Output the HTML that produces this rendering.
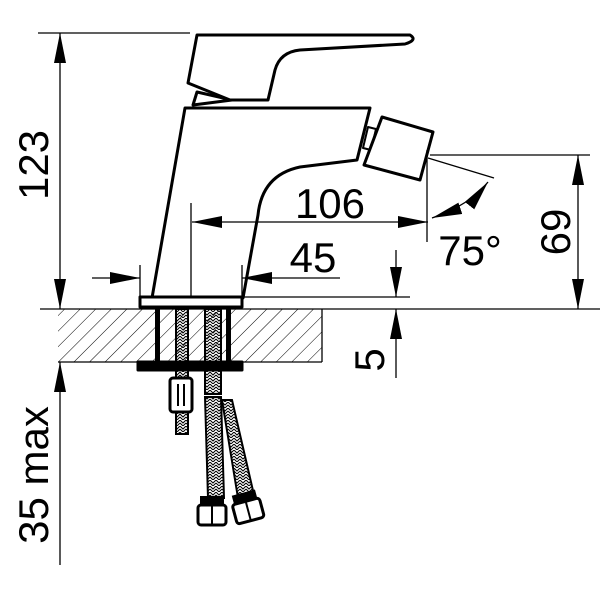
<!DOCTYPE html>
<html><head><style>body{margin:0;background:#fff}svg{display:block}text{font-family:"Liberation Sans",sans-serif;fill:#000}</style></head><body>
<svg width="600" height="600" viewBox="0 0 600 600" xmlns="http://www.w3.org/2000/svg">
<defs>
<pattern id="h" width="11" height="11" patternUnits="userSpaceOnUse" patternTransform="rotate(45)"><line x1="0" y1="0" x2="0" y2="11" stroke="#000" stroke-width="1"/></pattern>
<pattern id="br" width="6" height="6" patternUnits="userSpaceOnUse"><path d="M0 0 L3 3 L6 0 M0 3 L3 6 L6 3" stroke="#000" stroke-width="1" fill="none"/></pattern>
<marker id="a" viewBox="0 0 30 12" refX="30" refY="6" markerWidth="30" markerHeight="12" markerUnits="userSpaceOnUse" orient="auto-start-reverse"><path d="M0 0 L30 6 L0 12Z" fill="#000"/></marker>
</defs>
<g stroke="#000" fill="none" stroke-width="1.3">
<rect x="58" y="309" width="264" height="53" fill="url(#h)" stroke="none"/>
<line x1="58" y1="362" x2="322" y2="362"/>
<line x1="322" y1="309" x2="322" y2="362"/>
<line x1="40" y1="309" x2="600" y2="309"/>
<line x1="38" y1="33" x2="190" y2="33"/>
<line x1="60" y1="33" x2="60" y2="309" marker-start="url(#a)" marker-end="url(#a)"/>
<line x1="60" y1="565" x2="60" y2="362" marker-end="url(#a)"/>
<line x1="396" y1="250" x2="396" y2="297" marker-end="url(#a)"/>
<line x1="396" y1="378" x2="396" y2="309" marker-end="url(#a)"/>
<line x1="430" y1="155" x2="590" y2="155"/>
<line x1="578" y1="155" x2="578" y2="309" marker-start="url(#a)" marker-end="url(#a)"/>
<line x1="428" y1="158" x2="494" y2="178"/>
<path d="M432 218 Q470 205 488 182" marker-start="url(#a)" marker-end="url(#a)"/>
<line x1="242" y1="297" x2="410" y2="297"/>
</g>
<g stroke="#000" fill="#fff" stroke-width="3" stroke-linejoin="round">
<path d="M193 105 L197 92 L232 100 Z"/>
<path d="M197 35 L410 35 Q418 40 405 44 L300 50 Q280 52 275 70 L268 100 L230 100 L188 83 Z"/>
<path d="M185 108 L370 108 L357 160 L300 167 Q262 175 258 215 L243 298 L152 298 Z"/>
<path d="M368 127 L376 129 L371 150 L363 148 Z" stroke-width="2"/>
<path d="M382 117 L433 132 L420 180 L364 165 Z"/>
<rect x="140" y="297" width="102" height="10"/>
<rect x="138" y="362" width="104" height="8" fill="#000"/>
<rect x="155" y="309" width="5" height="53" fill="#000" stroke="none"/>
<rect x="226" y="309" width="5" height="53" fill="#000" stroke="none"/>
</g>
<g stroke="#000" fill="none" stroke-width="1.3">
<line x1="192" y1="222" x2="428" y2="222" marker-start="url(#a)" marker-end="url(#a)"/>
<line x1="191" y1="203" x2="191" y2="297"/>
<line x1="427" y1="150" x2="427" y2="242"/>
<line x1="92" y1="278" x2="140" y2="278" marker-end="url(#a)"/>
<line x1="340" y1="278" x2="242" y2="278" marker-end="url(#a)"/>
<line x1="140" y1="265" x2="140" y2="297"/>
<line x1="242" y1="265" x2="242" y2="297"/>
</g>
<g stroke="#000" stroke-width="2">
<rect x="176" y="309" width="12" height="125" fill="url(#br)"/>
<rect x="170" y="378" width="22" height="34" rx="3" fill="#fff" stroke-width="3"/>
<line x1="178" y1="384" x2="178" y2="406"/><line x1="184" y1="384" x2="184" y2="406"/>
<rect x="205" y="309" width="16" height="85" fill="url(#br)"/>
<path d="M205 397 L221 397 L224 498 L208 498 Z" fill="url(#br)"/>
<path d="M222 400 L232 400 L254 495 L238 498 Z" fill="url(#br)"/>
<rect x="198" y="505" width="28" height="20" rx="3" fill="#fff" stroke-width="3"/>
<line x1="212" y1="505" x2="212" y2="525"/>
<rect x="201" y="497" width="22" height="8" fill="#000"/>
<g transform="rotate(-15 248 510)"><rect x="234" y="501" width="28" height="20" rx="3" fill="#fff" stroke-width="3"/><line x1="248" y1="501" x2="248" y2="521"/><rect x="237" y="493" width="22" height="8" fill="#000"/></g>
</g>
<text x="330" y="218" font-size="42" text-anchor="middle">106</text>
<text x="313" y="272" font-size="42" text-anchor="middle">45</text>
<text x="470" y="265" font-size="42" text-anchor="middle">75°</text>
<text transform="translate(48 165) rotate(-90)" font-size="42" text-anchor="middle">123</text>
<text transform="translate(48 475) rotate(-90)" font-size="42" text-anchor="middle">35 max</text>
<text transform="translate(384 360) rotate(-90)" font-size="42" text-anchor="middle">5</text>
<text transform="translate(570 232) rotate(-90)" font-size="42" text-anchor="middle">69</text>
</svg>
</body></html>
